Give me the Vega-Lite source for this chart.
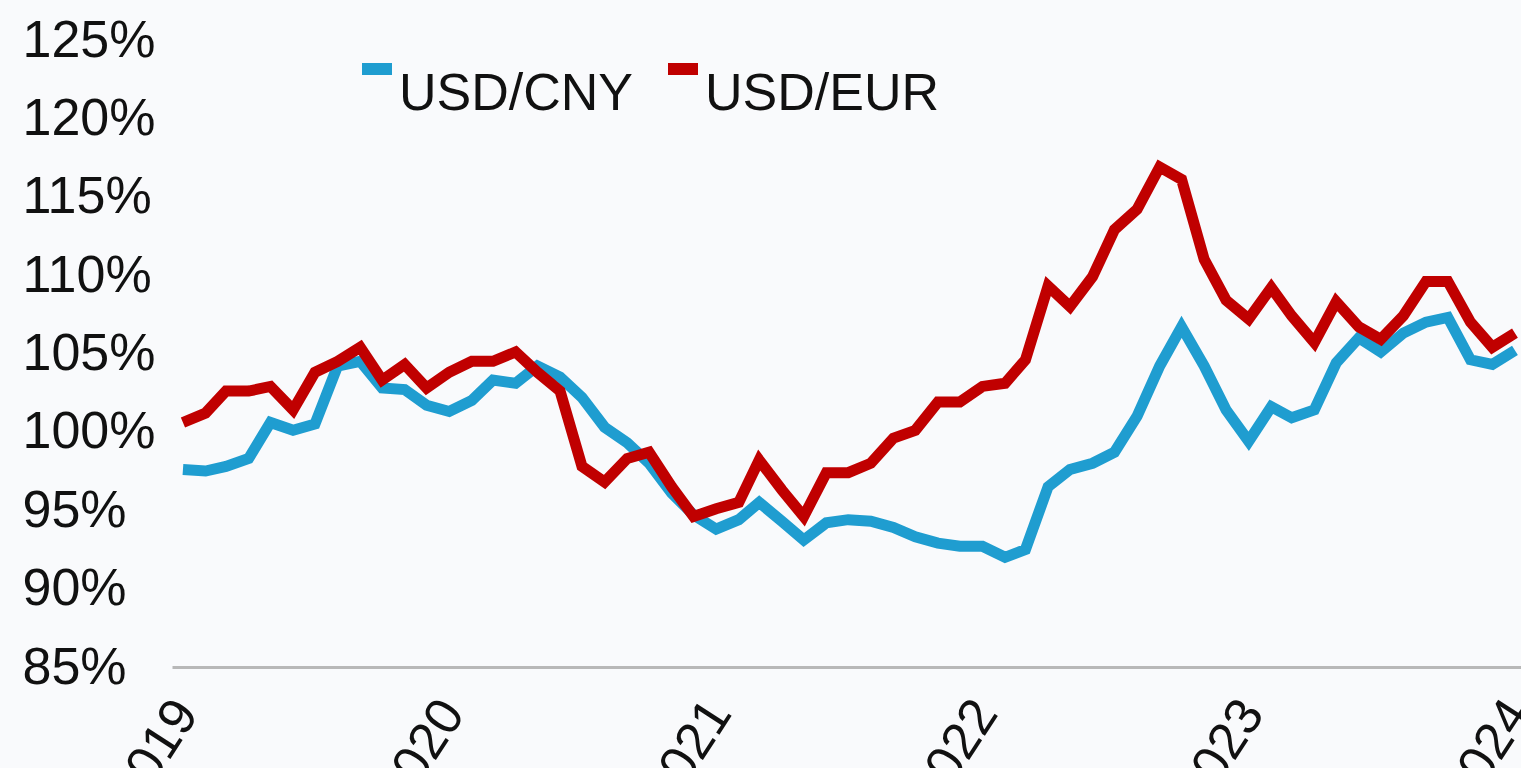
{
  "$schema": "https://vega.github.io/schema/vega-lite/v6.json",
  "width": 1349,
  "height": 627,
  "autosize": {"type": "none"},
  "padding": {"left": 172, "top": 40, "right": 0, "bottom": 101},
  "background": "#f9fafc",
  "config": {"view": {"stroke": null}, "font": "Liberation Sans"},
  "data": {
    "values": [
      {"date": "2019-01-01", "USD/CNY": 97.6, "USD/EUR": 100.6},
      {"date": "2019-02-01", "USD/CNY": 97.5, "USD/EUR": 101.2},
      {"date": "2019-03-01", "USD/CNY": 97.8, "USD/EUR": 102.6},
      {"date": "2019-04-01", "USD/CNY": 98.3, "USD/EUR": 102.6},
      {"date": "2019-05-01", "USD/CNY": 100.6, "USD/EUR": 102.9},
      {"date": "2019-06-01", "USD/CNY": 100.1, "USD/EUR": 101.4},
      {"date": "2019-07-01", "USD/CNY": 100.5, "USD/EUR": 103.8},
      {"date": "2019-08-01", "USD/CNY": 104.2, "USD/EUR": 104.5},
      {"date": "2019-09-01", "USD/CNY": 104.5, "USD/EUR": 105.4},
      {"date": "2019-10-01", "USD/CNY": 102.8, "USD/EUR": 103.3},
      {"date": "2019-11-01", "USD/CNY": 102.7, "USD/EUR": 104.3},
      {"date": "2019-12-01", "USD/CNY": 101.7, "USD/EUR": 102.8},
      {"date": "2020-01-01", "USD/CNY": 101.3, "USD/EUR": 103.8},
      {"date": "2020-02-01", "USD/CNY": 102.0, "USD/EUR": 104.5},
      {"date": "2020-03-01", "USD/CNY": 103.3, "USD/EUR": 104.5},
      {"date": "2020-04-01", "USD/CNY": 103.1, "USD/EUR": 105.1},
      {"date": "2020-05-01", "USD/CNY": 104.2, "USD/EUR": 103.8},
      {"date": "2020-06-01", "USD/CNY": 103.5, "USD/EUR": 102.6},
      {"date": "2020-07-01", "USD/CNY": 102.2, "USD/EUR": 97.8},
      {"date": "2020-08-01", "USD/CNY": 100.3, "USD/EUR": 96.8},
      {"date": "2020-09-01", "USD/CNY": 99.3, "USD/EUR": 98.3},
      {"date": "2020-10-01", "USD/CNY": 98.0, "USD/EUR": 98.7},
      {"date": "2020-11-01", "USD/CNY": 96.1, "USD/EUR": 96.5},
      {"date": "2020-12-01", "USD/CNY": 94.7, "USD/EUR": 94.6},
      {"date": "2021-01-01", "USD/CNY": 93.8, "USD/EUR": 95.1},
      {"date": "2021-02-01", "USD/CNY": 94.4, "USD/EUR": 95.5},
      {"date": "2021-03-01", "USD/CNY": 95.5, "USD/EUR": 98.2},
      {"date": "2021-04-01", "USD/CNY": 94.3, "USD/EUR": 96.3},
      {"date": "2021-05-01", "USD/CNY": 93.1, "USD/EUR": 94.6},
      {"date": "2021-06-01", "USD/CNY": 94.2, "USD/EUR": 97.4},
      {"date": "2021-07-01", "USD/CNY": 94.4, "USD/EUR": 97.4},
      {"date": "2021-08-01", "USD/CNY": 94.3, "USD/EUR": 98.0},
      {"date": "2021-09-01", "USD/CNY": 93.9, "USD/EUR": 99.6},
      {"date": "2021-10-01", "USD/CNY": 93.3, "USD/EUR": 100.1},
      {"date": "2021-11-01", "USD/CNY": 92.9, "USD/EUR": 101.9},
      {"date": "2021-12-01", "USD/CNY": 92.7, "USD/EUR": 101.9},
      {"date": "2022-01-01", "USD/CNY": 92.7, "USD/EUR": 102.9},
      {"date": "2022-02-01", "USD/CNY": 92.0, "USD/EUR": 103.1},
      {"date": "2022-03-01", "USD/CNY": 92.5, "USD/EUR": 104.6},
      {"date": "2022-04-01", "USD/CNY": 96.5, "USD/EUR": 109.3},
      {"date": "2022-05-01", "USD/CNY": 97.6, "USD/EUR": 108.0},
      {"date": "2022-06-01", "USD/CNY": 98.0, "USD/EUR": 109.9},
      {"date": "2022-07-01", "USD/CNY": 98.7, "USD/EUR": 112.9},
      {"date": "2022-08-01", "USD/CNY": 101.0, "USD/EUR": 114.2},
      {"date": "2022-09-01", "USD/CNY": 104.2, "USD/EUR": 116.9},
      {"date": "2022-10-01", "USD/CNY": 106.7, "USD/EUR": 116.1},
      {"date": "2022-11-01", "USD/CNY": 104.2, "USD/EUR": 111.0},
      {"date": "2022-12-01", "USD/CNY": 101.4, "USD/EUR": 108.4},
      {"date": "2023-01-01", "USD/CNY": 99.4, "USD/EUR": 107.2},
      {"date": "2023-02-01", "USD/CNY": 101.6, "USD/EUR": 109.2},
      {"date": "2023-03-01", "USD/CNY": 100.9, "USD/EUR": 107.4},
      {"date": "2023-04-01", "USD/CNY": 101.4, "USD/EUR": 105.7},
      {"date": "2023-05-01", "USD/CNY": 104.4, "USD/EUR": 108.3},
      {"date": "2023-06-01", "USD/CNY": 106.0, "USD/EUR": 106.7},
      {"date": "2023-07-01", "USD/CNY": 105.1, "USD/EUR": 105.9},
      {"date": "2023-08-01", "USD/CNY": 106.3, "USD/EUR": 107.4},
      {"date": "2023-09-01", "USD/CNY": 107.0, "USD/EUR": 109.6},
      {"date": "2023-10-01", "USD/CNY": 107.3, "USD/EUR": 109.6},
      {"date": "2023-11-01", "USD/CNY": 104.6, "USD/EUR": 107.0},
      {"date": "2023-12-01", "USD/CNY": 104.3, "USD/EUR": 105.4},
      {"date": "2024-01-01", "USD/CNY": 105.2, "USD/EUR": 106.3}
    ]
  },
  "transform": [{"fold": ["USD/CNY", "USD/EUR"], "as": ["series", "value"]}],
  "mark": {"type": "line", "strokeWidth": 11, "strokeJoin": "miter", "strokeCap": "butt"},
  "encoding": {
    "x": {
      "field": "date",
      "type": "temporal",
      "scale": {
        "type": "utc",
        "domain": [
          {"year": 2018, "month": 12, "date": 17, "utc": true},
          {"year": 2024, "month": 1, "date": 9, "hours": 7, "utc": true}
        ]
      },
      "axis": {
        "title": null,
        "format": "%Y",
        "tickCount": {"interval": "year", "step": 1},
        "grid": false,
        "ticks": false,
        "tickSize": 0,
        "domainColor": "#b8b8b8",
        "domainWidth": 3,
        "labelAngle": -57,
        "labelAlign": "right",
        "labelBaseline": "top",
        "labelPadding": 24,
        "labelOffset": -18,
        "labelFontSize": 52,
        "labelFont": "Liberation Sans",
        "labelColor": "#111111",
        "labelOverlap": false,
        "labelBound": false,
        "labelFlush": false
      }
    },
    "y": {
      "field": "value",
      "type": "quantitative",
      "scale": {"domain": [85, 125], "nice": false, "zero": false},
      "axis": {
        "title": null,
        "values": [85, 90, 95, 100, 105, 110, 115, 120, 125],
        "labelExpr": "datum.value + '%'",
        "grid": false,
        "ticks": false,
        "tickSize": 0,
        "domain": false,
        "labelAlign": "left",
        "labelBaseline": "middle",
        "labelPadding": 150,
        "labelFontSize": 52,
        "labelFont": "Liberation Sans",
        "labelColor": "#111111",
        "labelOverlap": false,
        "labelBound": false,
        "labelFlush": false
      }
    },
    "color": {
      "field": "series",
      "type": "nominal",
      "scale": {"domain": ["USD/CNY", "USD/EUR"], "range": ["#1f9dd0", "#c00000"]},
      "legend": {
        "title": null,
        "orient": "none",
        "legendX": 179,
        "legendY": 3,
        "direction": "horizontal",
        "padding": 0,
        "symbolType": "stroke",
        "symbolSize": 900,
        "symbolStrokeWidth": 12,
        "labelFontSize": 52,
        "labelFont": "Liberation Sans",
        "labelColor": "#111111",
        "labelBaseline": "top",
        "labelOffset": -4,
        "labelLimit": 500,
        "columnPadding": 10
      }
    }
  }
}
